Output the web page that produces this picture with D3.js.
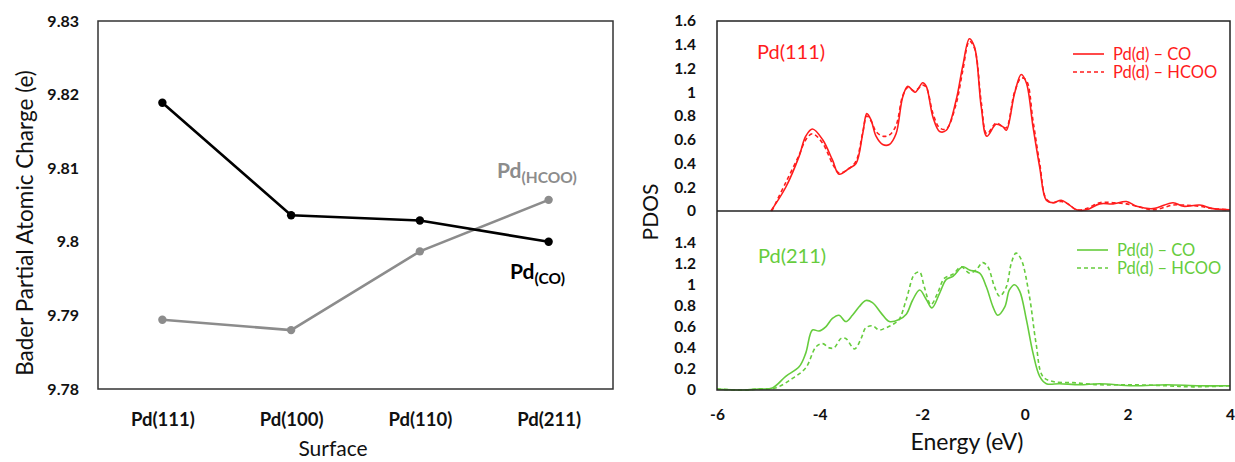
<!DOCTYPE html>
<html>
<head>
<meta charset="utf-8">
<script src="https://cdn.jsdelivr.net/npm/d3@7"></script>
<style>
  body { margin: 0; background: #fff; }
  svg { font-family: Lato, "Open Sans", sans-serif; }
</style>
</head>
<body>
<svg width="1235" height="462"></svg>
<script>
// ---- left chart data ----
const surfaces = ["Pd(111)", "Pd(100)", "Pd(110)", "Pd(211)"];
const chargeCO = [9.8189, 9.8036, 9.8029, 9.8000];
const chargeHCOO = [9.7894, 9.7880, 9.7987, 9.8057];
const chargeTicks = [9.78, 9.79, 9.8, 9.81, 9.82, 9.83];

// ---- right chart data: [energy, pdos] ----
const pd111CO = [
  [-4.95, 0], [-4.66, 0.2], [-4.4, 0.46], [-4.27, 0.63], [-4.14, 0.69], [-3.94, 0.6],
  [-3.75, 0.43], [-3.62, 0.31], [-3.42, 0.36], [-3.29, 0.4], [-3.16, 0.65], [-3.08, 0.82],
  [-3.0, 0.77], [-2.9, 0.63], [-2.77, 0.56], [-2.64, 0.56], [-2.51, 0.65], [-2.38, 0.96],
  [-2.28, 1.05], [-2.14, 1.0], [-1.99, 1.08], [-1.92, 1.05], [-1.79, 0.79], [-1.66, 0.67],
  [-1.53, 0.68], [-1.34, 0.93], [-1.21, 1.22], [-1.08, 1.45], [-0.98, 1.38], [-0.85, 0.88],
  [-0.74, 0.63], [-0.56, 0.73], [-0.43, 0.71], [-0.36, 0.68], [-0.2, 0.99], [-0.07, 1.15],
  [0.03, 1.08], [0.16, 0.71], [0.29, 0.37], [0.42, 0.09], [0.55, 0.07], [0.71, 0.09],
  [0.84, 0.06], [1.01, 0.01], [1.2, 0.01], [1.46, 0.06], [1.72, 0.06], [1.98, 0.08],
  [2.18, 0.04], [2.5, 0.02], [2.89, 0.07], [3.09, 0.04], [3.41, 0.05], [3.67, 0.02], [4.0, 0.01]
];
const pd111HCOO = [
  [-4.93, 0], [-4.66, 0.24], [-4.4, 0.47], [-4.27, 0.6], [-4.14, 0.65], [-3.94, 0.57],
  [-3.75, 0.4], [-3.62, 0.32], [-3.42, 0.36], [-3.29, 0.42], [-3.16, 0.66], [-3.08, 0.8],
  [-3.0, 0.76], [-2.9, 0.67], [-2.77, 0.63], [-2.64, 0.64], [-2.51, 0.72], [-2.38, 0.97],
  [-2.28, 1.04], [-2.15, 1.01], [-1.99, 1.06], [-1.92, 1.04], [-1.79, 0.82], [-1.66, 0.7],
  [-1.53, 0.69], [-1.34, 0.9], [-1.21, 1.18], [-1.08, 1.43], [-0.98, 1.37], [-0.85, 0.92],
  [-0.74, 0.65], [-0.56, 0.74], [-0.43, 0.71], [-0.36, 0.7], [-0.2, 1.0], [-0.07, 1.12],
  [0.03, 1.1], [0.16, 0.76], [0.29, 0.4], [0.42, 0.1], [0.55, 0.07], [0.71, 0.08],
  [0.84, 0.06], [1.01, 0.01], [1.2, 0.02], [1.46, 0.07], [1.72, 0.07], [1.98, 0.06],
  [2.18, 0.04], [2.5, 0.01], [2.89, 0.05], [3.09, 0.05], [3.41, 0.04], [3.67, 0.02], [4.0, 0.01]
];
const pd211CO = [
  [-6.0, 0.01], [-5.5, 0.0], [-5.2, 0.01], [-4.92, 0.02], [-4.66, 0.13], [-4.4, 0.22],
  [-4.27, 0.35], [-4.14, 0.57], [-4.01, 0.56], [-3.88, 0.6], [-3.75, 0.68], [-3.62, 0.71],
  [-3.49, 0.65], [-3.36, 0.71], [-3.23, 0.79], [-3.1, 0.85], [-2.97, 0.83], [-2.8, 0.73],
  [-2.64, 0.65], [-2.45, 0.67], [-2.31, 0.72], [-2.19, 0.85], [-2.05, 0.95], [-1.92, 0.86],
  [-1.81, 0.78], [-1.66, 0.92], [-1.53, 1.05], [-1.4, 1.08], [-1.21, 1.17], [-1.08, 1.14],
  [-0.88, 1.11], [-0.75, 0.98], [-0.62, 0.79], [-0.53, 0.71], [-0.39, 0.79], [-0.3, 0.95],
  [-0.2, 1.0], [-0.1, 0.94], [0.03, 0.67], [0.16, 0.35], [0.29, 0.13], [0.42, 0.06],
  [0.68, 0.06], [1.07, 0.05], [1.46, 0.06], [2.11, 0.04], [2.76, 0.05], [3.41, 0.04], [4.0, 0.04]
];
const pd211HCOO = [
  [-6.0, 0.01], [-5.5, 0.0], [-5.2, 0.01], [-4.86, 0.02], [-4.53, 0.11], [-4.27, 0.21],
  [-4.07, 0.41], [-3.94, 0.44], [-3.81, 0.4], [-3.72, 0.4], [-3.58, 0.49], [-3.49, 0.49],
  [-3.32, 0.39], [-3.19, 0.49], [-3.1, 0.59], [-2.97, 0.61], [-2.84, 0.57], [-2.71, 0.59],
  [-2.58, 0.62], [-2.45, 0.67], [-2.31, 0.86], [-2.15, 1.1], [-2.05, 1.12], [-1.96, 0.98],
  [-1.83, 0.81], [-1.7, 0.92], [-1.57, 1.06], [-1.4, 1.1], [-1.24, 1.17], [-1.08, 1.11],
  [-0.95, 1.14], [-0.82, 1.21], [-0.72, 1.17], [-0.59, 0.98], [-0.49, 0.89], [-0.36, 0.98],
  [-0.26, 1.21], [-0.17, 1.3], [-0.07, 1.24], [0.09, 0.89], [0.22, 0.44], [0.35, 0.13],
  [0.55, 0.08], [0.94, 0.07], [1.46, 0.05], [2.11, 0.05], [2.76, 0.04], [3.28, 0.03], [4.0, 0.04]
];
const energyTicks = [-6, -4, -2, 0, 2, 4];
const pdosTicksTop = [0, 0.2, 0.4, 0.6, 0.8, 1, 1.2, 1.4, 1.6];
const pdosTicksBottom = [0, 0.2, 0.4, 0.6, 0.8, 1, 1.2, 1.4];

const svg = d3.select("svg");
const fmt = (d) => String(+d.toFixed(2));
const red = "#ff1c1c";
const green = "#66cc3d";

// ================= left chart =================
const L = { left: 98, right: 613, top: 21, bottom: 389 };

const xCat = d3.scalePoint().domain(surfaces).range([L.left, L.right]).padding(0.5);
const yCharge = d3.scaleLinear().domain([9.78, 9.83]).range([L.bottom, L.top]);

svg.append("g")
  .attr("transform", `translate(${L.left - 16}, 0)`)
  .call(d3.axisLeft(yCharge).tickValues(chargeTicks).tickSize(0).tickFormat(fmt))
  .call((g) => g.select(".domain").remove())
  .selectAll("text")
  .attr("font-family", "Lato, sans-serif")
  .attr("font-size", 16)
  .attr("font-weight", "bold")
  .attr("fill", "#111");

svg.append("g")
  .attr("transform", `translate(0, ${L.bottom + 21})`)
  .call(d3.axisBottom(xCat).tickSize(0))
  .call((g) => g.select(".domain").remove())
  .selectAll("text")
  .attr("font-family", "Lato, sans-serif")
  .attr("font-size", 18.5)
  .attr("font-weight", "bold")
  .attr("fill", "#111");

svg.append("rect")
  .attr("x", L.left).attr("y", L.top)
  .attr("width", L.right - L.left).attr("height", L.bottom - L.top)
  .attr("fill", "none").attr("stroke", "#333").attr("stroke-width", 1.5);

const chargeLine = d3.line().x((d, i) => xCat(surfaces[i])).y((d) => yCharge(d));

[[chargeHCOO, "#8c8c8c"], [chargeCO, "#000"]].forEach(([vals, col]) => {
  svg.append("path")
    .attr("d", chargeLine(vals))
    .attr("fill", "none").attr("stroke", col).attr("stroke-width", 2.6);
  svg.selectAll(null)
    .data(vals)
    .enter()
    .append("circle")
    .attr("cx", (d, i) => xCat(surfaces[i]))
    .attr("cy", (d) => yCharge(d))
    .attr("r", 4.2)
    .attr("fill", col);
});

svg.append("text")
  .attr("transform", `translate(33, ${(L.top + L.bottom) / 2 + 18}) rotate(-90)`)
  .attr("text-anchor", "middle")
  .attr("font-size", 22.5)
  .attr("fill", "#111")
  .text("Bader Partial Atomic Charge (e)");

svg.append("text")
  .attr("x", 333).attr("y", 456)
  .attr("text-anchor", "middle")
  .attr("font-size", 21)
  .attr("fill", "#111")
  .text("Surface");

const lblH = svg.append("text").attr("x", 497).attr("y", 178)
  .attr("font-size", 21).attr("font-weight", "bold").attr("fill", "#8c8c8c");
lblH.append("tspan").text("Pd");
lblH.append("tspan").attr("font-size", 15.5).attr("dy", 5).text("(HCOO)");

const lblC = svg.append("text").attr("x", 510).attr("y", 279)
  .attr("font-size", 21).attr("font-weight", "bold").attr("fill", "#000");
lblC.append("tspan").text("Pd");
lblC.append("tspan").attr("font-size", 15.5).attr("dy", 5).text("(CO)");

// ================= right chart =================
const R = { left: 717, right: 1230, top: 21, mid: 211, bottom: 390 };

const xE = d3.scaleLinear().domain([-6, 4]).range([R.left, R.right]);
const yTop = d3.scaleLinear().domain([0, 1.6]).range([R.mid, R.top]);
const yBot = d3.scaleLinear().domain([0, 1.7]).range([R.bottom, R.mid]);

function styleTicks(g) {
  g.select(".domain").remove();
  g.selectAll("text")
    .attr("font-family", "Lato, sans-serif")
    .attr("font-size", 15.5)
    .attr("font-weight", "bold")
    .attr("fill", "#111");
}

svg.append("g")
  .attr("transform", `translate(${R.left - 18}, 0)`)
  .call(d3.axisLeft(yTop).tickValues(pdosTicksTop).tickSize(0).tickFormat(fmt))
  .call(styleTicks);

svg.append("g")
  .attr("transform", `translate(${R.left - 18}, 0)`)
  .call(d3.axisLeft(yBot).tickValues(pdosTicksBottom).tickSize(0).tickFormat(fmt))
  .call(styleTicks);

svg.append("g")
  .attr("transform", `translate(0, ${R.bottom + 16})`)
  .call(d3.axisBottom(xE).tickValues(energyTicks).tickSize(0).tickFormat((d) => String(d)))
  .call(styleTicks);

const lineTop = d3.line().x((d) => xE(d[0])).y((d) => yTop(d[1])).curve(d3.curveCatmullRom);
const lineBot = d3.line().x((d) => xE(d[0])).y((d) => yBot(d[1])).curve(d3.curveCatmullRom);

const curves = [
  [pd111CO, lineTop, red, null],
  [pd111HCOO, lineTop, red, "4,3"],
  [pd211CO, lineBot, green, null],
  [pd211HCOO, lineBot, green, "4,3"]
];
curves.forEach(([data, gen, col, dash]) => {
  svg.append("path")
    .attr("d", gen(data))
    .attr("fill", "none")
    .attr("stroke", col)
    .attr("stroke-width", 1.6)
    .attr("stroke-dasharray", dash);
});

svg.append("rect")
  .attr("x", R.left).attr("y", R.top)
  .attr("width", R.right - R.left).attr("height", R.bottom - R.top)
  .attr("fill", "none").attr("stroke", "#222").attr("stroke-width", 1.5);
svg.append("line")
  .attr("x1", R.left).attr("x2", R.right)
  .attr("y1", R.mid).attr("y2", R.mid)
  .attr("stroke", "#222").attr("stroke-width", 1.5);

svg.append("text")
  .attr("transform", `translate(658, 212) rotate(-90)`)
  .attr("text-anchor", "middle")
  .attr("font-size", 21)
  .attr("fill", "#111")
  .text("PDOS");

svg.append("text")
  .attr("x", 967).attr("y", 450)
  .attr("text-anchor", "middle")
  .attr("font-size", 23)
  .attr("fill", "#111")
  .text("Energy (eV)");

svg.append("text").attr("x", 757).attr("y", 59)
  .attr("font-size", 20).attr("fill", red).text("Pd(111)");
svg.append("text").attr("x", 758).attr("y", 263)
  .attr("font-size", 20).attr("fill", green).text("Pd(211)");

function legend(x, y, col) {
  const names = ["Pd(d) \u2013 CO", "Pd(d) \u2013 HCOO"];
  names.forEach((name, i) => {
    const yy = y + i * 18;
    svg.append("line")
      .attr("x1", x).attr("x2", x + 31)
      .attr("y1", yy).attr("y2", yy)
      .attr("stroke", col).attr("stroke-width", 1.6)
      .attr("stroke-dasharray", i ? "4,3" : null);
    svg.append("text")
      .attr("x", x + 40).attr("y", yy + 5.5)
      .attr("font-size", 16.5).attr("fill", col).text(name);
  });
}
legend(1073, 54, red);
legend(1077, 250, green);
</script>
</body>
</html>
